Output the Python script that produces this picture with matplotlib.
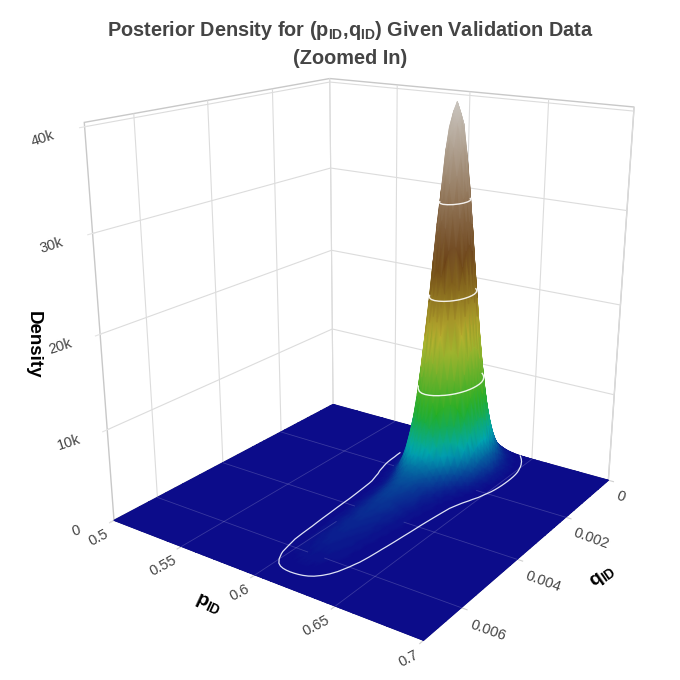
import numpy as np
import matplotlib
matplotlib.use("Agg")
import matplotlib.pyplot as plt
from matplotlib.colors import LinearSegmentedColormap, Normalize
from matplotlib.ticker import FuncFormatter
from matplotlib.collections import TriMesh, PolyCollection
from matplotlib.tri import Triangulation
import contourpy

plt.rcParams.update({
    "font.family": ["Liberation Sans", "DejaVu Sans"],
    "mathtext.fontset": "custom",
    "mathtext.rm": "Liberation Sans",
    "mathtext.bf": "Liberation Sans:bold",
    "mathtext.it": "Liberation Sans:italic",
    "grid.color": "#dcdcdc",
    "grid.linewidth": 0.8,
})

# p_ID grid and the relative density profile along p_ID
p_vals = [0.50, 0.52, 0.54, 0.56, 0.565,
          0.5675, 0.57, 0.5725, 0.575, 0.5775, 0.58, 0.5825, 0.585, 0.5875, 0.59,
          0.5925, 0.595, 0.5975, 0.60, 0.6025, 0.605, 0.6075, 0.61, 0.6125, 0.615,
          0.6175, 0.62, 0.6225, 0.625, 0.6275, 0.63, 0.6325, 0.635, 0.6375, 0.64,
          0.6425, 0.645, 0.6475, 0.65, 0.6525, 0.655, 0.66, 0.68, 0.70]
p_shape = [0, 0, 0, 0, 0,
           0, 0, 0, 0, 0.0004, 0.0012, 0.0035, 0.008, 0.017, 0.034,
           0.063, 0.120, 0.211, 0.339, 0.501, 0.678, 0.841, 0.958, 1.0, 0.972,
           0.893, 0.775, 0.636, 0.492, 0.360, 0.249, 0.163, 0.101, 0.062, 0.036,
           0.020, 0.011, 0.0055, 0.0025, 0.001, 0.0003, 0, 0, 0]

# q_ID grid and the relative density profile along q_ID (long tail to the front)
q_vals = [0.0, 0.000125, 0.00025, 0.000375, 0.0005, 0.000625, 0.00075, 0.000875,
          0.001, 0.001125, 0.00125, 0.001375, 0.0015, 0.001625, 0.00175, 0.001875,
          0.002, 0.002125, 0.00225, 0.002375, 0.0025, 0.002625, 0.00275, 0.002875,
          0.003, 0.00325, 0.0035, 0.00375, 0.004, 0.00425, 0.0045, 0.00475, 0.005,
          0.00525, 0.0055, 0.00575, 0.006, 0.00625, 0.0065, 0.00675, 0.007, 0.0072]
q_shape = [0.044, 0.080, 0.135, 0.216, 0.325, 0.458, 0.607, 0.755,
           0.882, 0.969, 1.0, 0.979, 0.917, 0.823, 0.707, 0.581,
           0.458, 0.345, 0.26, 0.185, 0.13, 0.095, 0.072, 0.058,
           0.049, 0.040, 0.034, 0.030, 0.027, 0.024, 0.021, 0.019, 0.017,
           0.015, 0.013, 0.011, 0.008, 0.0055, 0.003, 0.001, 0.0, 0.0]

peak_density = 40300
contour_levels = [10000, 20000, 30000]
support_level = 40

p_ticks = [0.5, 0.55, 0.6, 0.65, 0.7]
q_ticks = [0, 0.002, 0.004, 0.006]
z_ticks = [0, 10000, 20000, 30000, 40000]

p_lim = (0.5, 0.7)
q_lim = (0.0, 0.0072)
z_lim = (0, 40400)
ELEV, AZIM = 18.5, 35.0
BOX = (1.0, 1, 1.085)

p_arr = np.array(p_vals)
q_arr = np.array(q_vals)
Z = peak_density * np.outer(q_shape, p_shape)
P, Q = np.meshgrid(p_arr, q_arr)

earth = LinearSegmentedColormap.from_list("earth", [
    (0.0, "#0c0c8a"), (0.1, "#00a8b2"), (0.2, "#22ae26"),
    (0.4, "#bcb430"), (0.6, "#6b4115"), (1.0, "#cac5bf")])
norm = Normalize(0, Z.max())

el, az = np.radians(ELEV), np.radians(AZIM)
cam = np.array([np.cos(el) * np.cos(az), np.cos(el) * np.sin(az), np.sin(el)])
spans = np.array([q_lim[1] - q_lim[0], p_lim[1] - p_lim[0], z_lim[1] - z_lim[0]])
scale = np.array(BOX) / spans      # data -> box units

fig = plt.figure(figsize=(6.8, 6.8), dpi=100)
ax = fig.add_axes([0.03, 0.02, 1.0, 1.0], projection="3d", computed_zorder=False)
ax.view_init(elev=ELEV, azim=AZIM)
ax.set_proj_type("persp", focal_length=0.33)
ax.set_box_aspect(BOX, zoom=0.95)
ax.set_xlim(*q_lim)
ax.set_ylim(*p_lim)
ax.set_zlim(*z_lim)

# surface: each grid cell is cut into four triangles around its centre so the
# colours blend smoothly between the grid vertices
nq, npp = Z.shape
cq = (Q[:-1, :-1] + Q[1:, :-1] + Q[:-1, 1:] + Q[1:, 1:]) / 4
cp = (P[:-1, :-1] + P[1:, :-1] + P[:-1, 1:] + P[1:, 1:]) / 4
cz = (Z[:-1, :-1] + Z[1:, :-1] + Z[:-1, 1:] + Z[1:, 1:]) / 4
vq = np.concatenate([Q.ravel(), cq.ravel()])
vp = np.concatenate([P.ravel(), cp.ravel()])
vz = np.concatenate([Z.ravel(), cz.ravel()])
M = ax.get_proj()
pr = M @ np.vstack([vq, vp, vz, np.ones(vz.size)])
sx, sy, sd = pr[0] / pr[3], pr[1] / pr[3], pr[2] / pr[3]
tris = []
for i in range(nq - 1):
    for j in range(npp - 1):
        a, b, c, d = i * npp + j, i * npp + j + 1, (i + 1) * npp + j + 1, (i + 1) * npp + j
        m = nq * npp + i * (npp - 1) + j
        tris += [(a, b, m), (b, c, m), (c, d, m), (d, a, m)]
tris = np.array(tris)
vb = np.column_stack([vq, vp, vz]) * scale
nrm = np.cross(vb[tris[:, 1]] - vb[tris[:, 0]], vb[tris[:, 2]] - vb[tris[:, 0]])
nrm *= np.sign(nrm[:, 2:3] + 1e-30)
tris = tris[nrm @ cam > -1e-12]
tris = tris[np.argsort(-sd[tris].mean(axis=1), kind="stable")]

fc = earth(norm(vz[tris].mean(axis=1)))
under = PolyCollection(np.stack((sx[tris], sy[tris]), axis=-1), facecolors=fc,
                       edgecolors=fc, linewidths=0.5, zorder=0.9)
under.do_3d_projection = lambda: 0
ax.add_artist(under)
mesh = TriMesh(Triangulation(sx, sy, tris), cmap=earth, norm=norm, zorder=1)
mesh.set_array(vz)
mesh.do_3d_projection = lambda: 0
ax.add_artist(mesh)


def surf_height(q, p):
    return peak_density * np.interp(q, q_arr, q_shape, left=0, right=0) * \
        np.interp(p, p_arr, p_shape, left=0, right=0)


def visible(qs, ps, zs, tol=250):
    # march from each point toward the camera and see if the surface gets in the way
    step = cam / scale
    ok = np.ones(len(qs), bool)
    for t in np.linspace(0.002, 1.3, 500):
        ok &= ~(surf_height(qs + t * step[0], ps + t * step[1]) > zs + t * step[2] + tol)
    return ok


def draw_visible(qs, ps, zs, **kw):
    ok = visible(qs, ps, zs)
    qs = qs.copy()
    qs[~ok] = np.nan
    ax.plot(qs, ps, zs, **kw)


gen = contourpy.contour_generator(x=p_arr, y=q_arr, z=Z)
for lev in contour_levels:
    for seg in gen.lines(lev):
        draw_visible(seg[:, 1], seg[:, 0], np.full(len(seg), lev + 150.0),
                     color="white", lw=1.0, alpha=0.9, zorder=3)
for seg in gen.lines(support_level):
    draw_visible(seg[:, 1], seg[:, 0], np.full(len(seg), 0.0),
                 color="#dfe3f5", lw=0.9, zorder=3)

# faint floor grid showing through the flat part of the surface
for pv in p_ticks[1:-1]:
    qs = np.linspace(q_lim[0], q_lim[1], 200)
    draw_visible(qs, np.full(200, pv), np.zeros(200), color="white", lw=0.6,
                 alpha=0.18, zorder=2)
for qv in q_ticks[1:]:
    ps = np.linspace(p_lim[0], p_lim[1], 200)
    draw_visible(np.full(200, qv), ps, np.zeros(200), color="white", lw=0.6,
                 alpha=0.18, zorder=2)

ax.set_xticks(q_ticks)
ax.set_yticks(p_ticks)
ax.set_zticks(z_ticks)
ax.xaxis.set_major_formatter(FuncFormatter(lambda v, _: f"{v:g}"))
ax.yaxis.set_major_formatter(FuncFormatter(lambda v, _: f"{v:g}"))
ax.zaxis.set_major_formatter(FuncFormatter(lambda v, _: "0" if v == 0 else f"{v / 1000:g}k"))

for axis in (ax.xaxis, ax.yaxis, ax.zaxis):
    axis.set_pane_color((1, 1, 1, 1))
    axis.pane.set_edgecolor("#c8c8c8")
    axis.line.set_color((0, 0, 0, 0))
ax.tick_params(axis="x", color="#d0d0d0", labelcolor="#444444", labelsize=10.5, pad=-3, labelrotation=-20)
ax.tick_params(axis="y", color="#d0d0d0", labelcolor="#444444", labelsize=10.5, pad=-5, labelrotation=28)
ax.tick_params(axis="z", color="#e4e4e4", labelcolor="#444444", labelsize=10.5, pad=10, labelrotation=18)
for lab in ax.xaxis.get_majorticklabels():
    lab.set_ha("left")
for lab in ax.yaxis.get_majorticklabels():
    lab.set_ha("right")

# axis titles placed where the reference has them
fig.text(208 / 680, 1 - 605 / 680, r"p$_\mathbf{ID}$", rotation=-25, ha="center", va="center",
         fontsize=14, fontweight="bold", color="black")
fig.text(603 / 680, 1 - 577 / 680, r"q$_\mathbf{ID}$", rotation=35, ha="center", va="center",
         fontsize=14, fontweight="bold", color="black")
fig.text(33 / 680, 1 - 345 / 680, "Density", rotation=270, ha="center", va="center",
         fontsize=13.5, fontweight="bold", color="black")

fig.text(350 / 680, 1 - 30 / 680, r"Posterior Density for (p$_\mathbf{ID}$,q$_\mathbf{ID}$) Given Validation Data",
         ha="center", va="center", fontsize=14.3, fontweight="bold", color="#444444")
fig.text(350 / 680, 1 - 58 / 680, "(Zoomed In)", ha="center", va="center",
         fontsize=14.3, fontweight="bold", color="#444444")

fig.savefig("out.png", dpi=100)
